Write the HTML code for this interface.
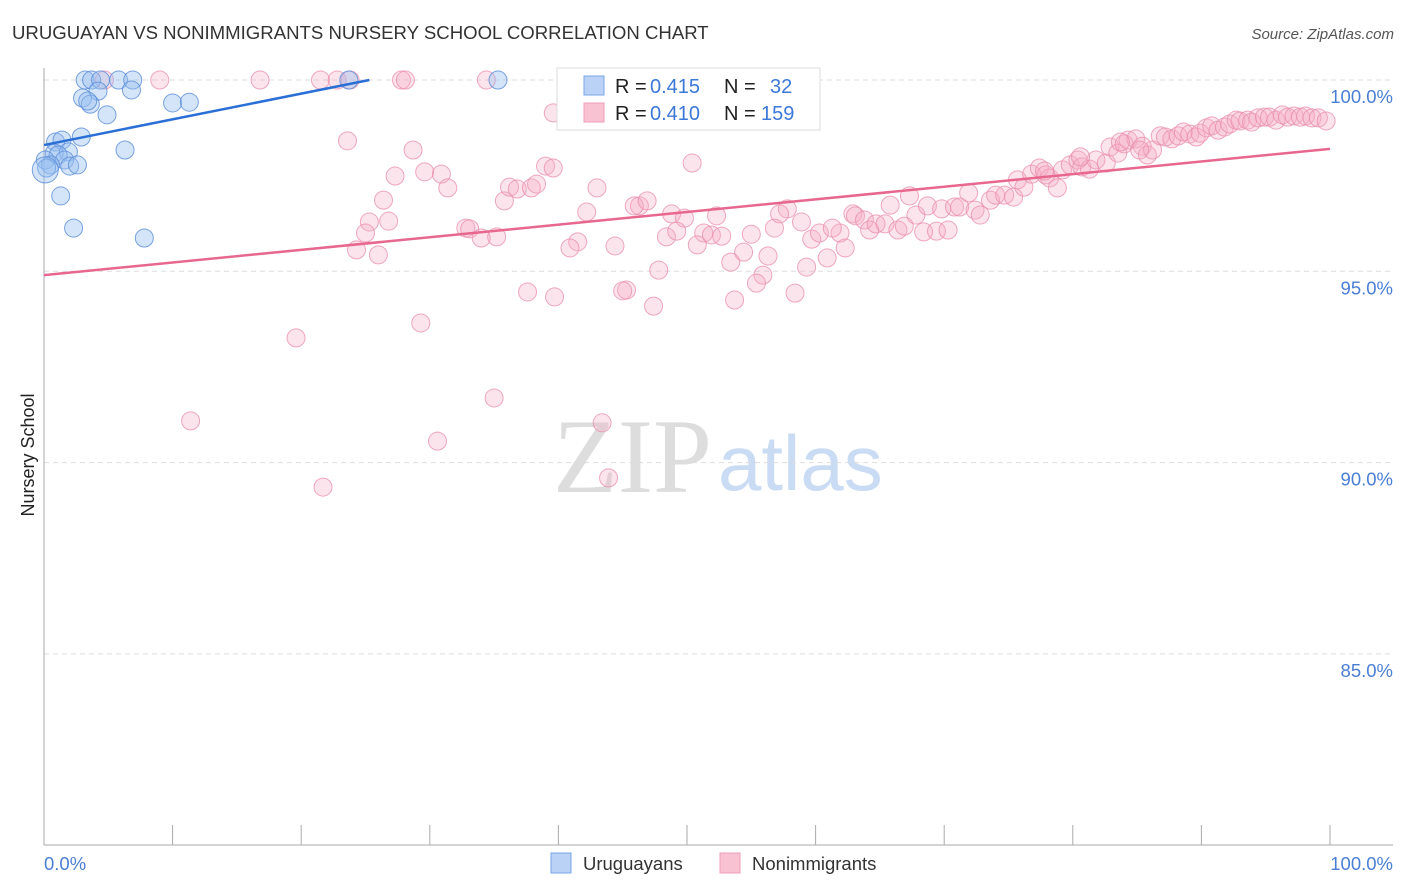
<!DOCTYPE html>
<html><head><meta charset="utf-8">
<style>
body{margin:0;background:#fff;font-family:"Liberation Sans",sans-serif;}
svg{display:block}
</style></head>
<body>
<svg id="chart" width="1406" height="892" viewBox="0 0 1406 892">
<text x="12" y="39" font-size="18.6" fill="#333">URUGUAYAN VS NONIMMIGRANTS NURSERY SCHOOL CORRELATION CHART</text>
<text x="1394" y="39" font-size="15" fill="#555" font-style="italic" text-anchor="end">Source: ZipAtlas.com</text>
<text x="553" y="492" font-size="106" fill="#ddd" font-family="Liberation Serif,serif">ZIP</text>
<text x="718" y="490" font-size="78" fill="#c9dcf3">atlas</text>
<text transform="translate(34,455) rotate(-90)" font-size="18" fill="#222" text-anchor="middle">Nursery School</text>
<g id="grid"></g>
<g id="axes"></g>
<g id="pts"></g>
<g id="lines"></g>
<g>
<rect x="557" y="68" width="263" height="62" fill="#fff" stroke="#ddd"/>
<rect x="584" y="76" width="20" height="19" fill="#b9d2f5" stroke="#7aa6e6"/>
<rect x="584" y="103" width="20" height="19" fill="#f8c2d2" stroke="#ee9cb8"/>
<text x="615" y="93" font-size="20" fill="#222">R =</text>
<text x="650" y="93" font-size="20" fill="#3b78d8">0.415</text>
<text x="724" y="93" font-size="20" fill="#222">N =</text>
<text x="770" y="93" font-size="20" fill="#3b78d8">32</text>
<text x="615" y="120" font-size="20" fill="#222">R =</text>
<text x="650" y="120" font-size="20" fill="#3b78d8">0.410</text>
<text x="724" y="120" font-size="20" fill="#222">N =</text>
<text x="761" y="120" font-size="20" fill="#3b78d8">159</text>
</g>
<g>
<rect x="551" y="853" width="20" height="20" fill="#b9d2f5" stroke="#7aa6e6"/>
<text x="583" y="870" font-size="18.5" fill="#333">Uruguayans</text>
<rect x="720" y="853" width="20" height="20" fill="#f8c2d2" stroke="#ee9cb8"/>
<text x="752" y="870" font-size="18.5" fill="#333">Nonimmigrants</text>
</g>
</svg>
<script>
const yTicks=[100,95,90,85];
const yTickLabels=["100.0%","95.0%","90.0%","85.0%"];
const xTicks=[0,10,20,30,40,50,60,70,80,90,100];
const blueX=[3.2,3.7,4.4,5.8,6.9,23.7,35.3,6.8,4.2,3.0,3.6,3.4,4.9,10.0,11.3,0.9,1.4,2.9,0.8,1.9,1.1,1.6,0.1,0.5,2.0,2.6,0.2,6.3,1.3,2.3,7.8,0.1];
const blueY=[100,100,100,100,100,100,100,99.74,99.71,99.53,99.37,99.45,99.09,99.40,99.42,98.38,98.43,98.51,98.09,98.12,98.04,97.91,97.91,97.78,97.75,97.78,97.70,98.17,96.97,96.13,95.87,97.65];
const pinkX=[4.7,9.0,16.8,21.5,22.8,23.8,27.8,28.1,34.4,39.6,23.6,28.7,27.3,26.4,25.3,25.0,24.3,26.0,26.8,29.6,30.9,31.4,32.8,33.1,34.0,35.2,35.8,36.2,36.8,37.9,38.3,39.0,39.6,43.0,42.2,41.5,40.9,44.4,46.3,45.9,46.9,50.4,48.8,49.8,48.4,49.2,51.3,51.9,52.3,52.7,50.8,55.0,54.4,53.4,56.3,55.9,55.4,53.7,47.8,45.3,45.0,47.4,39.7,37.6,29.3,19.6,11.4,21.7,30.6,35.0,43.4,43.9,57.8,57.2,58.9,56.8,59.7,60.3,61.9,61.3,62.3,60.9,59.3,58.4,62.9,63.1,63.8,64.2,64.7,65.4,65.8,66.4,66.9,67.3,67.8,68.4,68.7,69.4,69.8,70.3,70.8,71.2,71.9,72.4,72.8,73.6,74.0,74.7,75.4,75.7,76.2,76.8,77.4,77.9,78.2,78.8,79.2,79.8,80.4,80.7,81.3,81.8,82.6,82.9,83.5,84.0,84.3,84.9,85.4,85.8,86.2,86.8,87.2,87.7,88.2,88.6,89.1,89.6,89.9,90.4,90.8,91.3,91.8,92.2,92.7,93.0,93.6,93.9,94.4,94.9,95.3,95.8,96.3,96.7,97.2,97.7,98.1,98.6,99.1,99.7,83.7,85.2,77.8,80.6];
const pinkY=[100,100,100,100,100,100,100,100,100,99.14,98.41,98.17,97.49,96.86,96.29,96.00,95.56,95.43,96.31,97.60,97.54,97.18,96.13,96.11,95.87,95.90,96.84,97.20,97.15,97.18,97.28,97.75,97.70,97.18,96.55,95.77,95.61,95.66,96.71,96.71,96.84,97.83,96.50,96.39,95.90,96.05,96.00,95.95,96.45,95.92,95.69,95.97,95.50,95.24,95.40,94.90,94.69,94.25,95.03,94.51,94.49,94.09,94.33,94.46,93.65,93.26,91.09,89.36,90.56,91.69,91.04,89.60,96.63,96.50,96.29,96.13,95.84,96.00,96.00,96.13,95.61,95.35,95.11,94.43,96.50,96.45,96.34,96.08,96.24,96.24,96.73,96.08,96.18,96.97,96.47,96.03,96.71,96.05,96.63,96.08,96.68,96.68,97.05,96.60,96.47,96.86,96.99,96.99,96.94,97.39,97.20,97.54,97.70,97.52,97.44,97.18,97.65,97.78,97.91,97.73,97.67,97.91,97.83,98.25,98.09,98.33,98.43,98.46,98.27,98.04,98.17,98.54,98.51,98.46,98.54,98.64,98.59,98.51,98.61,98.75,98.80,98.69,98.77,98.85,98.95,98.93,98.95,98.90,99.01,99.03,99.03,98.95,99.09,99.03,99.06,99.03,99.06,99.01,99.01,98.93,98.38,98.17,97.62,97.99];
const blueTrend=[98.30,0,100,25.3];
const pinkTrend=[94.90,0,98.20,100];

const NS="http://www.w3.org/2000/svg";
const sx=v=>44+v*12.86;
const sy=v=>80+(100-v)*38.26;
function mk(parent,tag,attrs){const e=document.createElementNS(NS,tag);for(const k in attrs)e.setAttribute(k,attrs[k]);document.getElementById(parent).appendChild(e);return e;}

yTicks.forEach((t,i)=>{
  const g=mk('grid','line',{x1:44,x2:1393,y1:sy(t),y2:sy(t),stroke:'#ddd','stroke-dasharray':'5,4'});
  
  
  const l=mk('grid','text',{x:1393,y:sy(t)+23,'font-size':18.5,fill:'#4a7fd4','text-anchor':'end'});
  l.textContent=yTickLabels[i];
  
  
});
const ya=mk('axes','line',{x1:44,x2:44,y1:68,y2:845,stroke:'#aaa'});


const xa=mk('axes','line',{x1:44,x2:1393,y1:845,y2:845,stroke:'#aaa'});


xTicks.forEach(t=>{
  const tk=mk('axes','line',{x1:sx(t),x2:sx(t),y1:825,y2:845,stroke:'#aaa'});
  
  
});
const xl0=mk('axes','text',{x:44,y:870,'font-size':18.5,fill:'#4a7fd4'});xl0.textContent='0.0%';


const xl1=mk('axes','text',{x:1393,y:870,'font-size':18.5,fill:'#4a7fd4','text-anchor':'end'});xl1.textContent='100.0%';



pinkX.forEach((x,i)=>{
  const c=mk('pts','circle',{cx:sx(x),cy:sy(pinkY[i]),r:9,fill:'rgba(246,170,196,0.32)',stroke:'rgba(232,140,172,0.75)','stroke-width':1});
  
  
});
blueX.forEach((x,i)=>{
  const c=mk('pts','circle',{cx:sx(x),cy:sy(blueY[i]),r:(i===blueX.length-1?13:9),fill:'rgba(150,190,240,0.4)',stroke:'rgba(90,140,215,0.8)','stroke-width':1});
  
  
});
const bl=mk('lines','line',{x1:sx(blueTrend[1]),y1:sy(blueTrend[0]),x2:sx(blueTrend[3]),y2:sy(blueTrend[2]),stroke:'#2a6fd6','stroke-width':2.5});


const pl=mk('lines','line',{x1:sx(pinkTrend[1]),y1:sy(pinkTrend[0]),x2:sx(pinkTrend[3]),y2:sy(pinkTrend[2]),stroke:'#e8678f','stroke-width':2.5});


</script>
</body></html>
